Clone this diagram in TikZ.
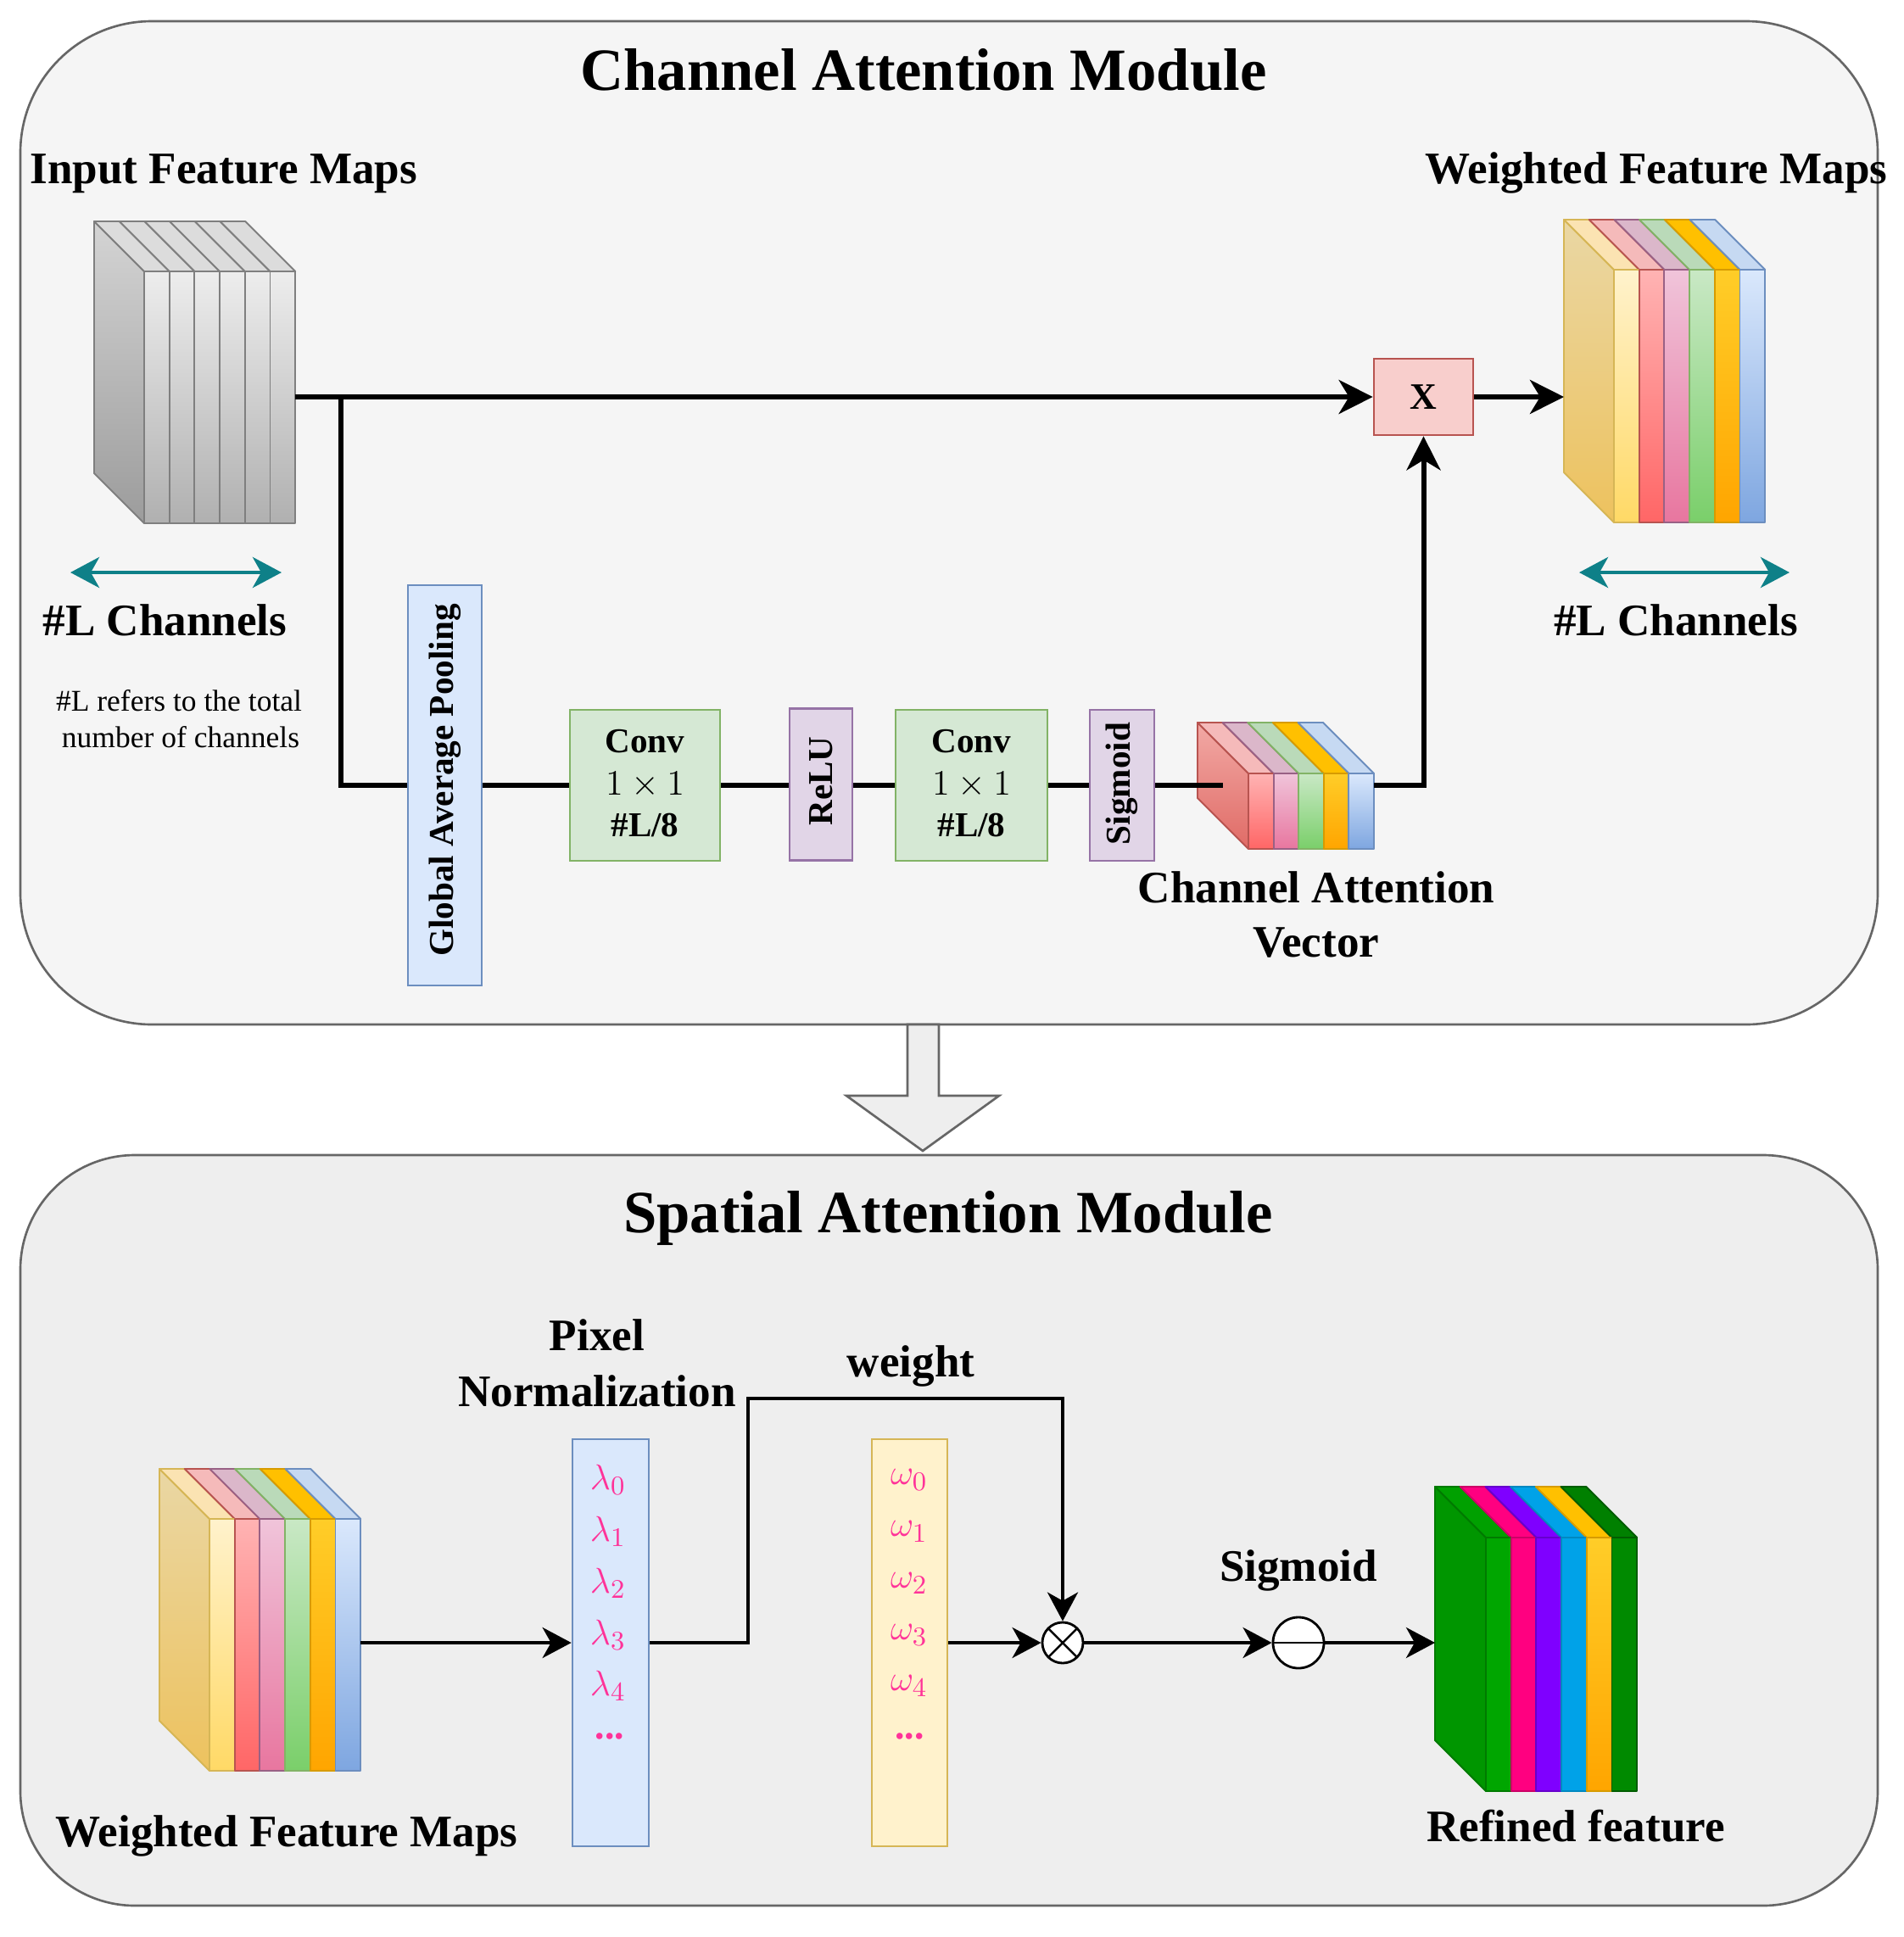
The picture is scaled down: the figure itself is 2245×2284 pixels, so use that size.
\documentclass[tikz,border=0pt]{standalone}
\usepackage{fontspec}
\setmainfont{Liberation Serif}
\usetikzlibrary{arrows.meta,shapes.geometric}
% module colours
\definecolor{modT}{HTML}{F5F5F5}
\definecolor{modB}{HTML}{EEEEEE}
\definecolor{modS}{HTML}{666666}
\definecolor{tealc}{HTML}{0E8088}
\definecolor{pinkc}{HTML}{FF3399}
% box colours
\definecolor{blueF}{HTML}{DAE8FC}\definecolor{blueS}{HTML}{6C8EBF}
\definecolor{grnF}{HTML}{D5E8D4}\definecolor{grnS}{HTML}{82B366}
\definecolor{purF}{HTML}{E1D5E7}\definecolor{purS}{HTML}{9673A6}
\definecolor{redF}{HTML}{F8CECC}\definecolor{redS}{HTML}{B85450}
\definecolor{yelF}{HTML}{FFF2CC}\definecolor{yelS}{HTML}{D6B656}
% cube colours
\definecolor{gyS}{HTML}{7F7F7F}\definecolor{gyF1}{HTML}{EDEDED}\definecolor{gyF2}{HTML}{B0B0B0}
\definecolor{gyT}{HTML}{DCDCDC}\definecolor{gyD1}{HTML}{D4D4D4}\definecolor{gyD2}{HTML}{9C9C9C}
\definecolor{yF1}{HTML}{FFF2CC}\definecolor{yF2}{HTML}{FFD966}\definecolor{yT}{HTML}{FBE3B2}
\definecolor{yD1}{HTML}{EAD7A4}\definecolor{yD2}{HTML}{EDC25E}
\definecolor{rF1}{HTML}{FFB3B3}\definecolor{rF2}{HTML}{FF6666}\definecolor{rT}{HTML}{F5BABA}
\definecolor{rD1}{HTML}{F2A9A5}\definecolor{rD2}{HTML}{E06B66}
\definecolor{pS}{HTML}{996185}\definecolor{pF1}{HTML}{F0C4DA}\definecolor{pF2}{HTML}{E8769F}\definecolor{pT}{HTML}{DBB7CA}
\definecolor{gnF1}{HTML}{C9E8C5}\definecolor{gnF2}{HTML}{7ACF6A}\definecolor{gnT}{HTML}{BADAB9}
\definecolor{oS}{HTML}{D79B00}\definecolor{oF1}{HTML}{FFCD28}\definecolor{oF2}{HTML}{FFA500}\definecolor{oT}{HTML}{FFC000}
\definecolor{bF1}{HTML}{DAE8FC}\definecolor{bF2}{HTML}{7EA6E0}\definecolor{bT}{HTML}{C6D9F2}
\definecolor{g1S}{HTML}{007A00}\definecolor{g1F}{HTML}{00A600}\definecolor{g1D}{HTML}{009600}\definecolor{g1T}{HTML}{00A000}
\definecolor{pkS}{HTML}{CC0066}\definecolor{pkF}{HTML}{FF0080}
\definecolor{puS}{HTML}{6600CC}\definecolor{puF}{HTML}{7F00FF}
\definecolor{cyS}{HTML}{0088C0}\definecolor{cyF}{HTML}{00A2E8}
\definecolor{dgS}{HTML}{005C00}\definecolor{dgF}{HTML}{008A00}\definecolor{dgT}{HTML}{008000}

\tikzset{
  cubeln/.style={line width=0.55pt, line join=round},
  % gray
  gySd/.style={cubeln, draw=gyS, top color=gyD1, bottom color=gyD2},
  gyFr/.style={cubeln, draw=gyS, top color=gyF1, bottom color=gyF2},
  gyTp/.style={cubeln, draw=gyS, fill=gyT},
  % colourful slabs
  ySd/.style={cubeln, draw=yelS, top color=yD1, bottom color=yD2},
  yFr/.style={cubeln, draw=yelS, top color=yF1, bottom color=yF2},
  yTp/.style={cubeln, draw=yelS, fill=yT},
  rSd/.style={cubeln, draw=redS, top color=rD1, bottom color=rD2},
  rFr/.style={cubeln, draw=redS, top color=rF1, bottom color=rF2},
  rTp/.style={cubeln, draw=redS, fill=rT},
  pFr/.style={cubeln, draw=pS, top color=pF1, bottom color=pF2},
  pTp/.style={cubeln, draw=pS, fill=pT},
  gnFr/.style={cubeln, draw=grnS, top color=gnF1, bottom color=gnF2},
  gnTp/.style={cubeln, draw=grnS, fill=gnT},
  oFr/.style={cubeln, draw=oS, top color=oF1, bottom color=oF2},
  oTp/.style={cubeln, draw=oS, fill=oT},
  bFr/.style={cubeln, draw=blueS, top color=bF1, bottom color=bF2},
  bTp/.style={cubeln, draw=blueS, fill=bT},
  % refined
  g1Sd/.style={cubeln, draw=g1S, fill=g1D},
  g1Fr/.style={cubeln, draw=g1S, fill=g1F},
  g1Tp/.style={cubeln, draw=g1S, fill=g1T},
  pkFr/.style={cubeln, draw=pkS, fill=pkF},
  pkTp/.style={cubeln, draw=pkS, fill=pkF},
  puFr/.style={cubeln, draw=puS, fill=puF},
  puTp/.style={cubeln, draw=puS, fill=puF},
  cyFr/.style={cubeln, draw=cyS, fill=cyF},
  cyTp/.style={cubeln, draw=cyS, fill=cyF},
  dgFr/.style={cubeln, draw=dgS, fill=dgF},
  dgTp/.style={cubeln, draw=dgS, fill=dgT},
  % boxes
  boxbase/.style={line width=0.75pt, inner sep=0pt, rectangle},
  bluebox/.style={boxbase, draw=blueS, fill=blueF},
  grnbox/.style={boxbase, draw=grnS, fill=grnF},
  purbox/.style={boxbase, draw=purS, fill=purF},
  redbox/.style={boxbase, draw=redS, fill=redF},
  yelbox/.style={boxbase, draw=yelS, fill=yelF},
  module/.style={draw=modS, line width=0.75pt},
  % text
  ttl/.style={font=\fontsize{20.1}{24}\selectfont\bfseries, anchor=base, inner sep=0pt},
  lbl/.style={font=\fontsize{15.1}{18}\selectfont\bfseries, anchor=base, inner sep=0pt},
  btxt/.style={font=\fontsize{11.7}{14}\selectfont\bfseries, anchor=base, inner sep=0pt},
  rtxt/.style={font=\fontsize{11.7}{14}\selectfont\bfseries, rotate=90, inner sep=0pt},
  note/.style={font=\fontsize{10.1}{12}\selectfont, anchor=base, inner sep=0pt},
  vec/.style={font=\fontsize{13}{15}\selectfont, text=pinkc, inner sep=0pt},
  dotsty/.style={font=\fontsize{13}{15}\selectfont\bfseries, text=pinkc, inner sep=0pt, anchor=base},
  % lines
  thk/.style={line width=1.7pt, line join=miter},
  thkar/.style={thk, -{Stealth[length=0.40cm, width=0.40cm, inset=0.12cm]}},
  thn/.style={line width=1.15pt, line join=miter},
  thnar/.style={thn, -{Stealth[length=0.34cm, width=0.36cm, inset=0.1cm]}},
  tealar/.style={line width=1.4pt, draw=tealc, {Stealth[length=0.34cm, width=0.36cm, inset=0.1cm]}-{Stealth[length=0.34cm, width=0.36cm, inset=0.1cm]}},
}

% #1 X0, #2 Y0 (front top-left), #3 slab width, #4 height, #5 depth, #6 side style, #7 list front/top
\newcommand{\slabcube}[7]{%
  \path[#6] (#1,#2) -- ++(-#5,-#5) -- ++(0,#4) -- ++(#5,#5) -- cycle;
  \foreach \fs/\ts [count=\i from 0] in {#7} {
    \path[\ts] ({#1+\i*#3},#2) -- ++(#3,0) -- ++(-#5,-#5) -- ++(-#3,0) -- cycle;
  }
  \foreach \fs/\ts [count=\i from 0] in {#7} {
    \path[\fs] ({#1+\i*#3},#2) rectangle ++(#3,#4);
  }
}

\begin{document}
\begin{tikzpicture}[x=0.01cm, y=-0.01cm]
\useasboundingbox[fill=white] (0,0) rectangle (2245,2284);

% ---------------- modules ----------------
\draw[module, fill=modT, rounded corners=1.55cm] (24,25) rectangle (2214,1208);
\draw[module, fill=modB, rounded corners=1.35cm] (24,1362) rectangle (2214,2247);

% down arrow between modules
\draw[draw=modS, line width=0.75pt, fill=modB, line join=miter]
  (1070,1208) -- (1107,1208) -- (1107,1292) -- (1178,1292) -- (1088,1357)
  -- (998,1292) -- (1070,1292) -- cycle;

% ---------------- titles ----------------
\node[ttl] (ttlC) at (1089,106) {Channel Attention Module};
\node[ttl] (ttlS) at (1118,1453) {Spatial Attention Module};

% ---------------- top module ----------------
\node[lbl, anchor=base west] (ifm) at (35,216) {Input Feature Maps};
\node[lbl, anchor=base west] (wfm) at (1680,216) {Weighted Feature Maps};

% input cube (gray)
\slabcube{170}{320}{29.7}{297}{59}{gySd}{gyFr/gyTp,gyFr/gyTp,gyFr/gyTp,gyFr/gyTp,gyFr/gyTp,gyFr/gyTp}
\coordinate (inR) at (348.2,468);
\coordinate (branch) at (402,468);

% weighted cube (top)
\slabcube{1903}{318}{29.7}{298}{59}{ySd}{yFr/yTp,rFr/rTp,pFr/pTp,gnFr/gnTp,oFr/oTp,bFr/bTp}
\coordinate (wtopL) at (1844,468);

% channel arrows
\coordinate (tlA) at (83,675); \coordinate (tlB) at (332,675);
\coordinate (trA) at (1862,675); \coordinate (trB) at (2110,675);
\draw[tealar] (tlA) -- (tlB);
\draw[tealar] (trA) -- (trB);
\node[lbl] (lch1) at (194.5,749) {\#L Channels};
\node[lbl] (lch2) at (1976,749) {\#L Channels};
\node[note] (nt1) at (211,838) {\#L refers to the total};
\node[note] (nt2) at (213,881) {number of channels};

% boxes
\node[bluebox, minimum width=0.87cm, minimum height=4.72cm] (gap) at (524.5,926) {};
\node[rtxt] (gapt) at (524.5,920) {Global Average Pooling};
\node[grnbox, minimum width=1.77cm, minimum height=1.78cm] (conv1) at (760.5,926) {};
\node[purbox, minimum width=0.74cm, minimum height=1.79cm] (relu) at (968,925) {};
\node[rtxt] (relut) at (968,921) {ReLU};
\node[grnbox, minimum width=1.79cm, minimum height=1.78cm] (conv2) at (1145.5,926) {};
\node[purbox, minimum width=0.76cm, minimum height=1.78cm] (sigm) at (1323,926) {};
\node[rtxt] (sigt) at (1323,924) {Sigmoid};
\foreach \cx/\nm in {760.5/a,1145.5/b}{
  \node[btxt] (cv\nm1) at (\cx,887) {Conv};
  \node[btxt, font=\fontsize{12.2}{14}\selectfont] (cv\nm2) at (\cx,937) {$1\times 1$};
  \node[btxt] (cv\nm3) at (\cx,986) {\#L/8};
}
\node[redbox, minimum width=1.17cm, minimum height=0.90cm,
      font=\fontsize{12.5}{14}\selectfont\bfseries] (xbox) at (1678.5,468) {X};

% channel attention vector cube
\slabcube{1472}{912}{29.6}{89}{60}{rSd}{rFr/rTp,pFr/pTp,gnFr/gnTp,oFr/oTp,bFr/bTp}
\coordinate (cavin) at (1442,926);
\coordinate (cavout) at (1620,926);
\node[lbl] (cav1) at (1552,1064) {Channel Attention};
\node[lbl] (cav2) at (1552,1128) {Vector};

% connectors (top)
\draw[thkar] (inR) -- (xbox.west);
\draw[thk] (branch) |- (gap.west);
\draw[thk] (gap.east) -- (conv1.west);
\draw[thk] (conv1.east) -- (relu.west |- conv1.east);
\draw[thk] (relu.east |- conv1.east) -- (conv2.west);
\draw[thk] (conv2.east) -- (sigm.west);
\draw[thk] (sigm.east) -- (cavin);
\draw[thkar] (cavout) -| (xbox.south);
\draw[thkar] (xbox.east) -- (wtopL);

% ---------------- bottom module ----------------
% weighted cube (bottom)
\slabcube{247}{1791}{29.7}{297}{59}{ySd}{yFr/yTp,rFr/rTp,pFr/pTp,gnFr/gnTp,oFr/oTp,bFr/bTp}
\coordinate (bR) at (425.2,1937);
\node[lbl] (wfm2) at (338,2177) {Weighted Feature Maps};

% lambda / omega columns
\node[bluebox, minimum width=0.90cm, minimum height=4.80cm] (lam) at (720,1937) {};
\node[yelbox, minimum width=0.89cm, minimum height=4.80cm] (omg) at (1072.5,1937) {};
\foreach \k/\yy in {0/1745,1/1806,2/1867,3/1928,4/1988}{
  \node[vec] (lam\k) at (717,\yy) {$\lambda_{\k}$};
  \node[vec] (omg\k) at (1072,\yy) {$\omega_{\k}$};
}
\node[dotsty] (lamd) at (719,2050) {...};
\node[dotsty] (omgd) at (1072.5,2050) {...};
\node[lbl] (pix1) at (704,1592) {Pixel};
\node[lbl] (pix2) at (704,1658) {Normalization};
\node[lbl] (wgt) at (1074,1623) {weight};

% operators
\node[circle, draw, fill=white, line width=0.8pt, minimum size=0.48cm, inner sep=0pt,
  path picture={\draw[line width=0.7pt] (path picture bounding box.south west) -- (path picture bounding box.north east)
                 (path picture bounding box.north west) -- (path picture bounding box.south east);}] (otimes) at (1253,1937) {};
\node[circle, draw, fill=white, line width=0.8pt, minimum size=0.60cm, inner sep=0pt,
  path picture={\draw[line width=0.7pt] (path picture bounding box.west) -- (path picture bounding box.east);}] (sgc) at (1531,1937) {};
\node[lbl] (sgl) at (1531,1864) {Sigmoid};

% refined cube
\slabcube{1752}{1813}{29.7}{299}{60}{g1Sd}{g1Fr/g1Tp,pkFr/pkTp,puFr/puTp,cyFr/cyTp,oFr/oTp,dgFr/dgTp}
\coordinate (rfL) at (1692,1937);
\node[lbl] (rfl) at (1858,2171) {Refined feature};

% connectors (bottom)
\coordinate (wa) at (882,1649);
\draw[thnar] (bR) -- (lam.west);
\draw[thnar] (lam.east) -| (wa) -| (otimes.north);
\draw[thnar] (omg.east) -- (otimes.west);
\draw[thnar] (otimes.east) -- (sgc.west);
\draw[thnar] (sgc.east) -- (rfL);
\end{tikzpicture}
\end{document}
